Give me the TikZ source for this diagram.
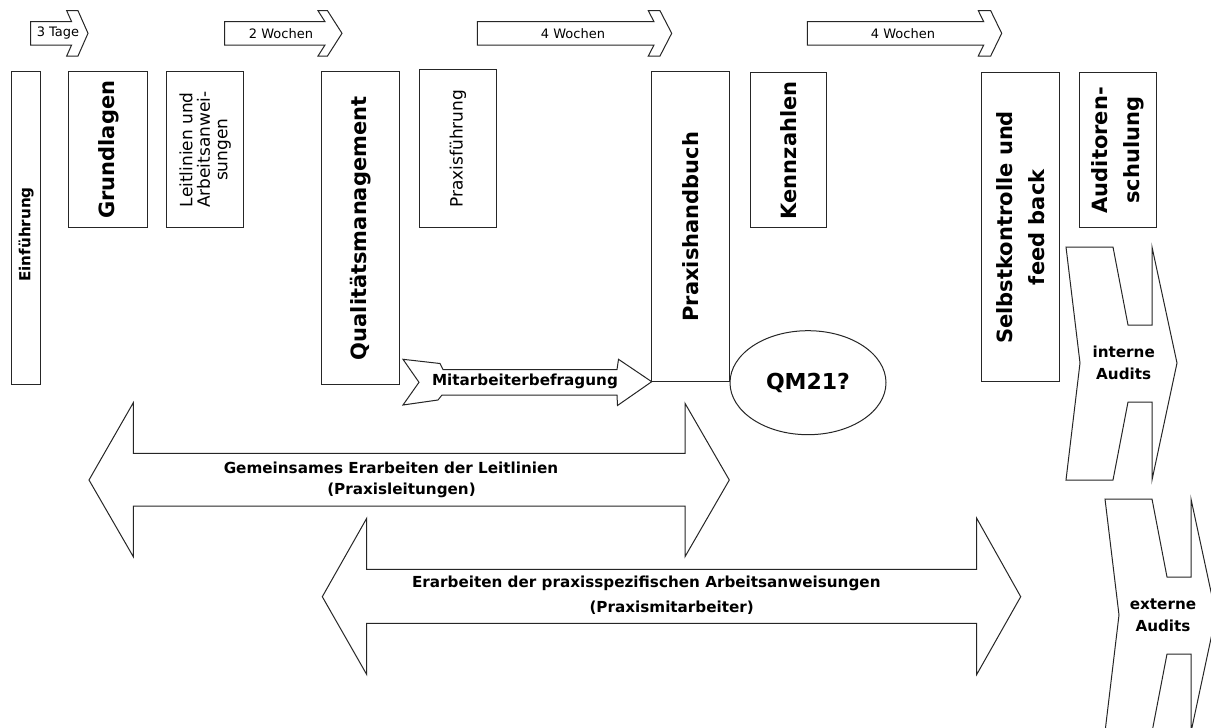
\documentclass[tikz,border=0pt]{standalone}
\usepackage{fontspec}
\setmainfont{DejaVu Sans}
\usetikzlibrary{shapes.geometric}
\begin{document}
\begin{tikzpicture}[x=1pt,y=-1pt,line join=miter]
\tikzset{
  ln/.style={draw=black!85, line width=1pt, fill=white},
  vbox/.style={ln, rectangle, rotate=90, inner sep=0pt, align=center},
  fbig/.style={font=\fontsize{21}{32}\selectfont\bfseries},
  fmid/.style={font=\fontsize{15.2}{21.7}\selectfont\bfseries},
  fnorm/.style={font=\fontsize{17}{17.5}\selectfont},
  fsmall/.style={font=\fontsize{13}{15}\selectfont},
  lbl/.style={inner sep=0pt}
}
\useasboundingbox (0,0) rectangle (1211,728);
\fill[white] (0,0) rectangle (1211,728);
\clip (0,0) rectangle (1211,728);

% top duration arrows
\draw[ln] (30.7,21.7) -- (71.6,21.7) -- (66.7,10.7) -- (78,10.7) -- (88,33.3) -- (78,56) -- (66.7,56) -- (71.6,45) -- (30.7,45) -- cycle;
\node[fsmall,lbl] (t1) at (58,33.3) {3 Tage};
\draw[ln] (224.5,21.7) -- (325,21.7) -- (318,10.7) -- (327.5,10.7) -- (342,33.3) -- (327.5,56) -- (318,56) -- (325,45) -- (224.5,45) -- cycle;
\node[fsmall,lbl] (t2) at (281,33.3) {2 Wochen};
\draw[ln] (477.3,21.7) -- (654,21.7) -- (648.3,10.7) -- (660,10.7) -- (671.7,33.3) -- (660,56) -- (648.3,56) -- (654,45) -- (477.3,45) -- cycle;
\node[fsmall,lbl] (t3) at (573,33.3) {4 Wochen};
\draw[ln] (807.3,21.7) -- (983.7,21.7) -- (978.3,10.7) -- (990.7,10.7) -- (1001.7,33.3) -- (990.7,56) -- (978.3,56) -- (983.7,45) -- (807.3,45) -- cycle;
\node[fsmall,lbl] (t4) at (903,33.3) {4 Wochen};

% vertical boxes
\node[vbox,minimum width=313.3pt,minimum height=29pt] (einf) at (26.2,228.3) {};
\node[fmid,lbl,rotate=90] (einft) at (26.2,234.5) {Einführung};
\node[vbox,fbig,minimum width=156pt,minimum height=78.7pt] (grund) at (108.3,149.7) {Grundlagen};
\node[vbox,fnorm,minimum width=156pt,minimum height=77.3pt] (leit) at (205.3,149.7) {Leitlinien und\\Arbeitsanwei-\\sungen};
\node[vbox,fbig,minimum width=313.3pt,minimum height=78.3pt] (qual) at (360.8,228.3) {Qualitätsmanagement};
\node[vbox,fnorm,minimum width=157.7pt,minimum height=77.4pt] (pfuehr) at (458,148.8) {Praxisführung};
\node[vbox,fbig,minimum width=310pt,minimum height=78.3pt] (phb) at (690.8,226.7) {Praxishandbuch};
\node[vbox,fbig,minimum width=154.7pt,minimum height=76pt] (kenn) at (788.7,150.3) {Kennzahlen};
\node[vbox,fbig,minimum width=308.7pt,minimum height=78.3pt] (selbst) at (1020.8,227.3) {Selbstkontrolle und\\feed back};
\node[vbox,fbig,minimum width=154.7pt,minimum height=77.4pt] (audit) at (1118,150.3) {Auditoren-\\schulung};

% Mitarbeiterbefragung arrow
\draw[ln] (403,359.3) -- (440,363.5) -- (443,369.5) -- (617,369.5) -- (618.5,359.3) -- (651.7,381.7) -- (617.5,405.5) -- (617,395) -- (442,395) -- (438,400) -- (403,405) -- (419,382.3) -- cycle;
\node[fmid,lbl] (mab) at (525,381.7) {Mitarbeiterbefragung};

% QM21 ellipse
\node[ln,ellipse,minimum width=156pt,minimum height=104pt,inner sep=0pt,font=\fontsize{22}{24}\selectfont\bfseries] (qm) at (808,382.7) {QM21?};

% big double arrows
\draw[ln] (89,480) -- (133.3,402.7) -- (133.3,453.3) -- (685,453.3) -- (685,403.3) -- (729.3,480) -- (685,556.7) -- (685,506) -- (133.3,506) -- (133.3,556.7) -- cycle;
\node[fmid,lbl] (g1) at (391,468.3) {Gemeinsames Erarbeiten der Leitlinien};
\node[fmid,lbl] (g2) at (401.5,490) {(Praxisleitungen)};

\draw[ln] (322.3,596.7) -- (366.7,518.3) -- (366.7,569.3) -- (976.7,569.3) -- (976.7,518.3) -- (1020.7,596.7) -- (976.7,674.5) -- (976.7,623.3) -- (366.7,623.3) -- (366.7,674.5) -- cycle;
\node[fmid,lbl] (e1) at (646.3,583.3) {Erarbeiten der praxisspezifischen Arbeitsanweisungen};
\node[fmid,lbl] (e2) at (671.7,607.3) {(Praxismitarbeiter)};

% audit chevrons
\draw[ln] (1066,247) -- (1113,247) -- (1128,325) -- (1152,325) -- (1152,247) -- (1177,363) -- (1152,480) -- (1152,402) -- (1128,402) -- (1113,480) -- (1066,480) -- (1080,363) -- cycle;
\node[fmid,lbl,align=center] (intern) at (1123.7,362.5) {interne\\Audits};
\begin{scope}[shift={(39,252)}]
\draw[ln] (1066,247) -- (1113,247) -- (1128,325) -- (1152,325) -- (1152,247) -- (1177,363) -- (1152,480) -- (1152,402) -- (1128,402) -- (1113,480) -- (1066,480) -- (1080,363) -- cycle;
\end{scope}
\node[fmid,lbl,align=center] (extern) at (1163,615) {externe\\Audits};
\end{tikzpicture}
\end{document}
